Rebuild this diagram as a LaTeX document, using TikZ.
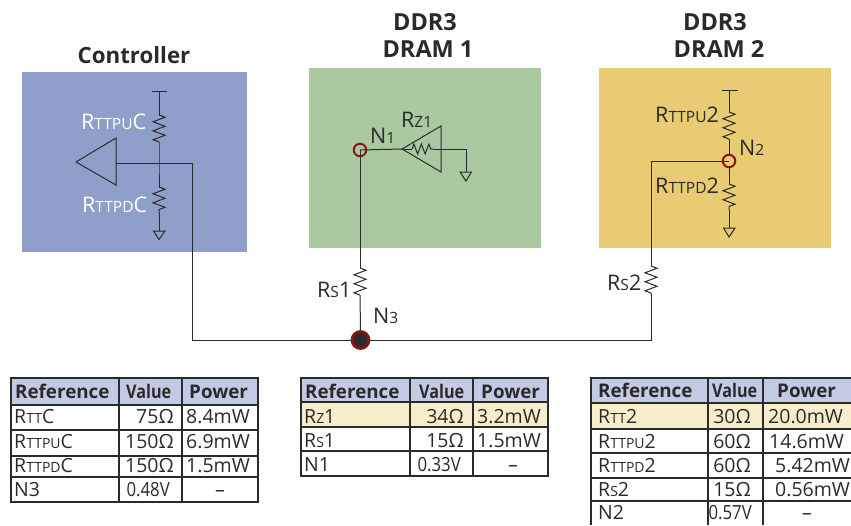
\documentclass[tikz,border=0pt]{standalone}
\usepackage{fontspec}
\setmainfont{Open Sans}
\newfontfamily\nar[FakeStretch=.86]{Open Sans}
\usetikzlibrary{decorations.pathmorphing}
\definecolor{boxblue}{HTML}{909FC9}
\definecolor{boxgreen}{HTML}{ABC9A0}
\definecolor{boxyellow}{HTML}{E8CB72}
\definecolor{headblue}{HTML}{C3CAE3}
\definecolor{rowcream}{HTML}{F8EDCB}
\definecolor{ringred}{HTML}{8E1414}
\definecolor{ink}{HTML}{2A2A2C}
\newcommand{\smc}[1]{{\fontsize{15.5}{15}\selectfont #1}}
\newcommand{\tsm}[1]{{\fontsize{14}{14}\selectfont #1}}
\tikzset{
 x=1pt,y=-1pt,
 wire/.style={draw=ink,line width=1pt},
 zz/.style={draw=ink,line width=1pt,decorate,decoration={zigzag,amplitude=6pt,segment length=9pt}},
 zzh/.style={draw=ink,line width=1pt,decorate,decoration={zigzag,amplitude=5pt,segment length=7.5pt}},
 gnd/.style={draw=ink,line width=1pt,line join=miter},
 ring/.style={circle,draw=ringred,line width=2pt,inner sep=0pt,minimum size=12.5pt},
 title/.style={font=\fontsize{22.3}{24}\selectfont\bfseries,inner sep=0pt,text=ink},
 titleb/.style={font=\fontsize{23.5}{24}\selectfont\bfseries,inner sep=0pt,text=ink},
 lab/.style={font=\fontsize{21.5}{24}\selectfont,inner sep=0pt,anchor=base west,text=ink},
 wlab/.style={lab,text=white},
 tb/.style={font=\fontsize{18.8}{20}\selectfont\bfseries,inner sep=0pt,text=ink},
 tbn/.style={font=\fontsize{18.8}{20}\selectfont\nar\bfseries,inner sep=0pt,text=ink},
 tc/.style={font=\fontsize{19.5}{20}\selectfont,inner sep=0pt,text=ink},
 tcn/.style={font=\fontsize{19.5}{20}\selectfont\nar,inner sep=0pt,text=ink},
 grid/.style={draw=ink,line width=1.2pt},
}
\begin{document}
\begin{tikzpicture}
\useasboundingbox (0,0) rectangle (851,525);
\clip (0,0) rectangle (851,525);
% panels
\fill[boxblue] (22,72) rectangle (247,252);
\fill[boxgreen] (309,68) rectangle (541,248);
\fill[boxyellow] (599,68) rectangle (831,248);
% titles
\node[title] (tctrl) at (134,55) {Controller};
\node[titleb] (tddra) at (425,22) {DDR3};
\node[titleb] (tdram) at (428,49) {DRAM 1};
\node[titleb] (tddrb) at (715,22) {DDR3};
\node[titleb] (tdrbm) at (719,49) {DRAM 2};
% controller
\coordinate (cTop) at (159,91);
\coordinate (cBarL) at (152,91);
\coordinate (cBarR) at (167,91);
\coordinate (cR1a) at (159,115);
\coordinate (cR1b) at (159,142);
\coordinate (cJ) at (159,163);
\coordinate (cR2a) at (159,187);
\coordinate (cR2b) at (159,213);
\coordinate (cG) at (159,231);
\coordinate (cIn) at (116,163);
\coordinate (cTurn) at (192,163);
\coordinate (bL) at (192,340);
\draw[wire] (cBarL) -- (cBarR);
\draw[wire] (cTop) -- (cR1a);
\draw[zz] (cR1a) -- (cR1b);
\draw[wire] (cR1b) -- (cJ) -- (cR2a);
\draw[zz] (cR2a) -- (cR2b);
\draw[wire] (cR2b) -- (cG);
\draw[gnd] (153.5,231) -- (165,231) -- (159,239.5) -- cycle;
\draw[wire] (116,138) -- (76,162) -- (116,185) -- cycle;
\draw[wire] (cIn) -- (cTurn) -- (bL);
\node[wlab] (lpuc) at (81,129) {R\smc{TTPU}C};
\node[wlab] (lpdc) at (82,212) {R\smc{TTPD}C};
% dram 1
\node[ring] (n1) at (360,150) {};
\coordinate (aTip) at (402,149);
\coordinate (aRa) at (412,149);
\coordinate (aRb) at (434,149);
\coordinate (aTurn) at (466,149);
\coordinate (aG) at (466,172);
\coordinate (aRs1) at (360,268);
\coordinate (aRs2) at (360,295);
\draw[wire] (n1.center) -- (aTip);
\draw[wire] (441,126) -- (aTip) -- (441,172) -- cycle;
\draw[wire] (aTip) -- (aRa);
\draw[zzh] (aRa) -- (aRb);
\draw[wire] (aRb) -- (aTurn) -- (aG);
\draw[gnd] (460,172) -- (471.5,172) -- (466,181) -- cycle;
\draw[wire] (n1.center) -- (aRs1);
\draw[zz] (aRs1) -- (aRs2);
\node[lab] (lrz) at (401,127) {R\smc{Z1}};
\node[lab] (ln1) at (370,143) {N\smc{1}};
\node[lab] (lrs1) at (317,297) {R\smc{S}1};
% dram 2
\node[ring] (n2) at (729,161) {};
\coordinate (bTop) at (729,90);
\coordinate (bBarL) at (722,90);
\coordinate (bBarR) at (738,90);
\coordinate (bR1a) at (729,112);
\coordinate (bR1b) at (729,139);
\coordinate (bR2a) at (729,184);
\coordinate (bR2b) at (729,210);
\coordinate (bG) at (729,228);
\coordinate (bTurn) at (651,161);
\coordinate (bRa) at (651,266);
\coordinate (bRb) at (651,294);
\coordinate (bR) at (651,340);
\draw[wire] (bBarL) -- (bBarR);
\draw[wire] (bTop) -- (bR1a);
\draw[zz] (bR1a) -- (bR1b);
\draw[wire] (bR1b) -- (n2.north);
\draw[wire] (n2.south) -- (bR2a);
\draw[zz] (bR2a) -- (bR2b);
\draw[wire] (bR2b) -- (bG);
\draw[gnd] (723.5,228) -- (735,228) -- (729,237) -- cycle;
\draw[wire] (n2.center) -- (bTurn) -- (bRa);
\draw[zz] (bRa) -- (bRb);
\node[lab] (lpu2) at (655,122) {R\smc{TTPU}2};
\node[lab] (lpd2) at (655,193) {R\smc{TTPD}2};
\node[lab] (ln2) at (739,155) {N\smc{2}};
\node[lab] (lrs2) at (607,290) {R\smc{S}2};
% bus
\node[circle,fill=ink,draw=ringred,line width=2.8pt,inner sep=0pt,minimum size=17pt] (n3) at (360.5,340) {};
\draw[wire] (bL) -- (n3.west);
\draw[wire] (n3.east) -- (bR) -- (bRb);
\draw[wire] (aRs2) -- (n3.north);
\node[lab] (ln3) at (373,323) {N\smc{3}};
% table 1
\fill[headblue] (11,378) rectangle (258,405);
\draw[grid] (11,378) rectangle (258,502);
\foreach \y in {405,430,456,477} \draw[grid] (11,\y) -- (258,\y);
\foreach \x in {119,182} \draw[grid] (\x,378) -- (\x,502);
\node[tb,anchor=base west] (a1) at (15,398) {Reference};
\node[tbn,anchor=base west] (a2) at (126,398) {Value};
\node[tb,anchor=base west] (a3) at (189,398) {Power};
\node[tc,anchor=base west] (a4) at (14,423) {R\tsm{TT}C};
\node[tc,anchor=base east] (a5) at (174,423) {75Ω};
\node[tc,anchor=base west] (a6) at (186,423) {8.4mW};
\node[tc,anchor=base west] (a7) at (14,448) {R\tsm{TTPU}C};
\node[tc,anchor=base east] (a8) at (174,448) {150Ω};
\node[tc,anchor=base west] (a9) at (186,448) {6.9mW};
\node[tc,anchor=base west] (a10) at (14,472) {R\tsm{TTPD}C};
\node[tc,anchor=base east] (a11) at (174,472) {150Ω};
\node[tc,anchor=base west] (a12) at (186,472) {1.5mW};
\node[tc,anchor=base west] (a13) at (14,496) {N3};
\node[tcn,anchor=base east] (a14) at (170,496) {0.48V};
\node[tc,anchor=base] (a15) at (220,496) {–};
% table 2
\fill[headblue] (301,378) rectangle (548,402);
\fill[rowcream] (301,402) rectangle (548,427);
\draw[grid] (301,378) rectangle (548,476);
\foreach \y in {402,427,451} \draw[grid] (301,\y) -- (548,\y);
\foreach \x in {410,473} \draw[grid] (\x,378) -- (\x,476);
\node[tb,anchor=base west] (b1) at (305,398) {Reference};
\node[tbn,anchor=base west] (b2) at (419,398) {Value};
\node[tb,anchor=base west] (b3) at (481,398) {Power};
\node[tc,anchor=base west] (b4) at (304,423) {R\tsm{Z}1};
\node[tc,anchor=base east] (b5) at (464,423) {34Ω};
\node[tc,anchor=base west] (b6) at (477,423) {3.2mW};
\node[tc,anchor=base west] (b7) at (304,447) {R\tsm{S}1};
\node[tc,anchor=base east] (b8) at (464,447) {15Ω};
\node[tc,anchor=base west] (b9) at (477,447) {1.5mW};
\node[tc,anchor=base west] (b10) at (304,471) {N1};
\node[tcn,anchor=base east] (b11) at (461,471) {0.33V};
\node[tc,anchor=base] (b12) at (513,471) {–};
% table 3
\fill[headblue] (591,378) rectangle (851,403);
\fill[rowcream] (591,403) rectangle (851,429);
\draw[grid] (851,378) -- (591,378) -- (591,525);
\foreach \y in {403,429,453,478,501} \draw[grid] (591,\y) -- (851,\y);
\foreach \x in {708,763} \draw[grid] (\x,378) -- (\x,525);
\node[tb,anchor=base west] (c1) at (598,397) {Reference};
\node[tbn,anchor=base west] (c2) at (712,397) {Value};
\node[tb,anchor=base west] (c3) at (777,397) {Power};
\node[tc,anchor=base west] (c4) at (598,423) {R\tsm{TT}2};
\node[tc,anchor=base east] (c5) at (751,423) {30Ω};
\node[tc,anchor=base west] (c6) at (768,423) {20.0mW};
\node[tc,anchor=base west] (c7) at (598,448) {R\tsm{TTPU}2};
\node[tc,anchor=base east] (c8) at (751,448) {60Ω};
\node[tc,anchor=base west] (c9) at (769,448) {14.6mW};
\node[tc,anchor=base west] (c10) at (598,472) {R\tsm{TTPD}2};
\node[tc,anchor=base east] (c11) at (751,472) {60Ω};
\node[tc,anchor=base west] (c12) at (775,472) {5.42mW};
\node[tc,anchor=base west] (c13) at (598,496) {R\tsm{S}2};
\node[tc,anchor=base east] (c14) at (751,496) {15Ω};
\node[tc,anchor=base west] (c15) at (775,496) {0.56mW};
\node[tc,anchor=base west] (c16) at (598,519) {N2};
\node[tcn,anchor=base east] (c17) at (752,519) {0.57V};
\node[tc,anchor=base] (c18) at (807,519) {–};
\end{tikzpicture}
\end{document}
